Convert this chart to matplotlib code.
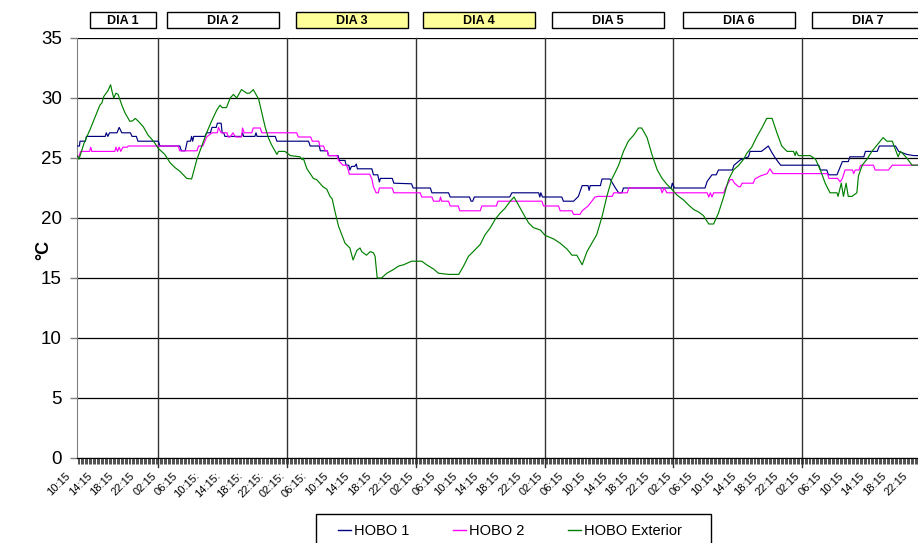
import matplotlib
matplotlib.use('Agg')
import matplotlib.pyplot as plt
from matplotlib.patches import Rectangle
from matplotlib.lines import Line2D
from matplotlib.ticker import MultipleLocator
import matplotlib.transforms as mtransforms

plt.rcParams['font.family'] = ['Liberation Sans', 'DejaVu Sans']

# ---------------- data (hours since 10:15 of day 1, temperature in degC) ----------------
hobo1 = [(0.84, 26.0), (1.3, 26.0), (1.4, 26.4), (2.4, 26.4), (2.6, 26.8), (6.1, 26.8), (6.3, 27.1),
         (6.6, 26.8), (6.9, 27.1), (8.3, 27.1), (8.7, 27.55), (9.2, 27.1), (10.8, 27.1), (11.1, 26.8),
         (11.9, 26.8), (12.2, 26.4), (16.0, 26.4), (16.3, 26.0), (20.0, 26.0), (20.3, 25.6), (21.0, 25.6),
         (21.4, 26.4), (22.0, 26.4), (22.2, 26.8), (22.4, 26.4), (22.6, 26.8), (24.7, 26.8), (25.0, 27.1),
         (25.7, 27.1), (26.0, 27.55), (26.8, 27.55), (27.0, 27.9), (27.7, 27.9), (27.9, 27.1), (28.2, 27.1),
         (28.4, 26.8), (31.5, 26.8), (31.7, 27.1), (31.9, 26.8), (34.0, 26.8), (34.2, 27.1), (34.4, 26.8),
         (37.8, 26.8), (38.1, 26.4), (44.0, 26.4), (44.3, 26.0), (46.0, 26.0), (46.2, 25.6), (47.5, 25.6),
         (47.7, 25.2), (49.5, 25.2), (49.7, 24.8), (50.8, 24.8), (51.0, 24.4), (51.5, 24.4), (51.7, 24.0),
         (52.0, 24.3), (52.6, 24.3), (52.9, 24.5), (53.1, 24.1), (55.8, 24.1), (56.1, 23.6), (56.9, 23.6),
         (57.2, 23.0), (57.4, 23.3), (59.6, 23.3), (59.9, 22.9), (63.2, 22.85), (63.5, 22.5), (66.7, 22.5),
         (67.0, 22.1), (70.1, 22.1), (70.4, 21.75), (74.0, 21.75), (74.3, 21.4), (74.6, 21.4), (74.9, 21.75),
         (81.5, 21.75), (81.9, 22.1), (86.9, 22.1), (87.1, 21.75), (87.3, 22.1), (87.6, 21.75), (91.2, 21.75),
         (91.5, 21.4), (93.4, 21.4), (94.3, 21.8), (95.0, 22.7), (96.1, 22.7), (96.3, 22.3), (96.5, 22.7),
         (98.4, 22.7), (98.7, 23.25), (100.2, 23.25), (101.2, 22.5), (101.8, 22.1), (102.4, 22.1), (102.7, 22.5),
         (111.6, 22.5), (111.8, 22.9), (112.2, 22.5), (117.9, 22.5), (118.3, 23.05), (119.2, 23.6), (120.0, 23.6),
         (120.4, 24.0), (123.0, 24.0), (123.3, 24.4), (124.5, 24.85), (126.0, 25.1), (126.3, 25.55),
         (128.4, 25.55), (129.0, 25.75), (129.7, 26.0), (130.3, 25.5), (131.0, 25.0), (132.0, 24.4),
         (139.1, 24.4), (139.4, 24.0), (140.6, 24.0), (140.9, 23.6), (142.5, 23.6), (143.5, 24.7),
         (144.6, 24.7), (144.9, 25.1), (147.5, 25.1), (147.8, 25.55), (150.0, 25.55), (150.4, 26.0),
         (153.4, 26.0), (154.0, 25.55), (155.5, 25.3), (156.8, 25.2), (157.6, 25.2)]

hobo2 = [(0.84, 25.2), (1.2, 25.1), (1.5, 25.55), (3.2, 25.55), (3.4, 25.9), (3.6, 25.55), (7.9, 25.55),
         (8.1, 25.9), (8.4, 25.55), (8.7, 25.9), (9.0, 25.55), (9.4, 25.9), (10.2, 25.9), (10.4, 26.0),
         (19.7, 26.0), (20.0, 25.6), (23.2, 25.6), (23.5, 26.0), (24.3, 26.0), (25.0, 26.75), (26.0, 27.1),
         (27.0, 27.1), (27.2, 27.55), (27.7, 27.1), (28.8, 27.1), (29.0, 26.75), (29.4, 26.75), (29.9, 27.1),
         (30.4, 26.75), (31.5, 26.75), (31.7, 27.5), (32.0, 27.1), (33.4, 27.1), (33.7, 27.5), (35.0, 27.5),
         (35.3, 27.1), (41.8, 27.1), (42.1, 26.75), (44.4, 26.75), (44.7, 26.4), (45.9, 26.4), (46.1, 26.0),
         (46.8, 26.0), (47.1, 25.6), (47.5, 25.6), (47.7, 25.2), (49.3, 25.2), (49.6, 24.8), (50.4, 24.4),
         (51.1, 24.4), (51.4, 24.0), (51.6, 23.65), (55.4, 23.65), (55.8, 23.25), (56.1, 22.6), (56.6, 22.1),
         (57.0, 22.1), (57.2, 22.5), (59.6, 22.5), (59.9, 22.1), (64.8, 22.1), (65.1, 21.75), (67.0, 21.75),
         (67.3, 21.4), (68.4, 21.4), (68.6, 21.75), (68.8, 21.4), (70.1, 21.4), (70.4, 21.0), (71.9, 21.0),
         (72.2, 20.6), (76.0, 20.6), (76.3, 21.0), (79.0, 21.0), (79.3, 21.4), (87.5, 21.4), (87.8, 21.0),
         (90.6, 21.0), (90.9, 20.6), (93.1, 20.6), (93.4, 20.3), (94.6, 20.3), (95.0, 20.6), (96.1, 21.0),
         (96.8, 21.4), (97.4, 21.75), (98.0, 21.8), (100.6, 21.8), (100.9, 22.1), (103.4, 22.1), (103.7, 22.5),
         (109.6, 22.5), (109.9, 22.1), (110.3, 22.5), (110.8, 22.1), (118.3, 22.1), (118.6, 21.75),
         (118.9, 22.1), (119.2, 21.75), (119.5, 22.1), (121.4, 22.1), (121.7, 22.5), (122.6, 23.2),
         (123.0, 23.2), (123.4, 22.9), (124.2, 22.6), (124.5, 22.6), (124.8, 22.9), (126.9, 22.9),
         (127.2, 23.25), (128.2, 23.5), (129.5, 23.7), (130.0, 24.1), (130.6, 23.7), (140.7, 23.7),
         (141.0, 23.3), (142.6, 23.3), (143.1, 23.0), (143.5, 23.3), (144.0, 24.0), (145.4, 24.0),
         (145.6, 23.7), (145.9, 24.0), (146.6, 24.0), (146.9, 24.4), (149.3, 24.4), (149.6, 24.0),
         (152.1, 24.0), (152.8, 24.4), (157.6, 24.4)]

hobo_ext = [(0.84, 25.2), (1.2, 24.9), (1.5, 25.3), (2.2, 26.3), (3.3, 27.4), (4.5, 28.75), (5.1, 29.4),
            (5.5, 29.6), (5.8, 30.1), (6.1, 30.3), (6.6, 30.6), (7.1, 31.1), (7.4, 30.5), (7.7, 30.0),
            (8.1, 30.4), (8.5, 30.3), (9.2, 29.4), (9.8, 28.75), (10.7, 28.05), (11.2, 28.1), (11.7, 28.3),
            (12.3, 28.05), (13.2, 27.6), (14.1, 26.9), (15.1, 26.4), (16.0, 25.8), (17.2, 25.3), (18.2, 24.6),
            (19.1, 24.2), (20.0, 23.9), (21.3, 23.3), (22.2, 23.25), (23.2, 24.9), (24.1, 26.0), (25.0, 27.1),
            (25.9, 28.05), (26.9, 29.0), (27.5, 29.4), (27.9, 29.2), (28.7, 29.2), (29.4, 30.0), (30.0, 30.3),
            (30.6, 30.0), (31.5, 30.7), (32.5, 30.4), (33.0, 30.4), (33.7, 30.7), (34.7, 29.9), (35.3, 28.75),
            (35.9, 27.6), (36.5, 26.7), (37.1, 26.1), (38.1, 25.3), (38.4, 25.55), (39.6, 25.55), (40.6, 25.2),
            (42.4, 25.1), (42.8, 24.86), (43.0, 25.0), (43.7, 24.1), (44.9, 23.3), (45.5, 23.2), (46.7, 22.6),
            (47.4, 22.4), (48.0, 21.8), (48.4, 21.6), (49.0, 20.4), (49.6, 19.3), (50.2, 18.6), (50.8, 17.9),
            (51.7, 17.5), (52.3, 16.5), (53.0, 17.3), (53.6, 17.5), (53.9, 17.2), (54.8, 16.9), (55.5, 17.2),
            (56.1, 17.1), (56.4, 16.8), (56.8, 15.0), (57.6, 15.0), (58.6, 15.4), (59.8, 15.7), (60.8, 16.0),
            (61.7, 16.1), (63.2, 16.4), (65.1, 16.4), (66.0, 16.1), (67.3, 15.75), (68.2, 15.4), (70.1, 15.3),
            (72.0, 15.3), (72.9, 16.0), (73.8, 16.8), (74.7, 17.2), (76.0, 17.8), (76.9, 18.6), (77.9, 19.2),
            (78.8, 19.9), (79.7, 20.4), (80.6, 20.8), (81.6, 21.4), (82.3, 21.75), (83.1, 21.1), (84.1, 20.3),
            (85.0, 19.6), (85.9, 19.2), (87.2, 19.0), (88.1, 18.55), (89.7, 18.25), (90.9, 17.9), (92.2, 17.4),
            (93.1, 16.9), (94.0, 16.9), (95.0, 16.1), (95.9, 17.2), (96.8, 17.9), (97.7, 18.6), (98.7, 20.1),
            (99.6, 21.8), (100.5, 23.2), (101.8, 24.4), (102.7, 25.55), (103.6, 26.4), (104.6, 26.9),
            (105.5, 27.5), (106.1, 27.5), (107.1, 26.7), (108.0, 25.3), (109.0, 24.0), (109.9, 23.3),
            (110.8, 22.8), (111.7, 22.4), (112.7, 21.9), (113.9, 21.5), (114.8, 21.1), (115.8, 20.7),
            (116.7, 20.5), (117.6, 20.2), (118.6, 19.5), (119.5, 19.5), (120.4, 20.4), (121.4, 21.8),
            (122.3, 23.2), (123.2, 24.0), (124.2, 24.4), (125.1, 24.9), (125.7, 25.4), (126.6, 25.9),
            (127.6, 26.8), (128.5, 27.5), (129.4, 28.3), (130.4, 28.3), (131.3, 27.1), (132.2, 26.0),
            (133.2, 25.55), (134.4, 25.55), (134.7, 25.2), (134.9, 25.55), (135.3, 25.2), (137.5, 25.2),
            (138.5, 24.9), (139.4, 24.0), (140.3, 22.9), (141.2, 22.1), (142.5, 22.1), (142.7, 21.8),
            (143.3, 22.9), (143.7, 21.8), (144.2, 22.9), (144.6, 21.8), (145.3, 21.8), (146.2, 22.1),
            (146.5, 23.5), (147.2, 24.4), (148.1, 24.9), (149.0, 25.55), (150.0, 26.1), (151.1, 26.7),
            (151.8, 26.4), (152.8, 26.4), (153.4, 25.7), (153.9, 25.1), (154.3, 25.55), (154.7, 25.4),
            (155.5, 25.0), (156.5, 24.4), (157.6, 24.4)]

series_names = ['HOBO 1', 'HOBO 2', 'HOBO Exterior']
series_colors = ['#000080', '#FF00FF', '#008000']

x_labels = ['10:15', '14:15', '18:15', '22:15',
            '02:15', '06:15', '10:15:', '14:15:', '18:15:', '22:15:',
            '02:15:', '06:15:', '10:15', '14:15', '18:15', '22:15',
            '02:15', '06:15', '10:15', '14:15', '18:15', '22:15',
            '02:15', '06:15', '10:15', '14:15', '18:15', '22:15',
            '02:15', '06:15', '10:15', '14:15', '18:15', '22:15',
            '02:15', '06:15', '10:15', '14:15', '18:15', '22:15']
day_dividers = [16, 40, 64, 88, 112, 136]
day_names = ['DIA 1', 'DIA 2', 'DIA 3', 'DIA 4', 'DIA 5', 'DIA 6', 'DIA 7']
day_colors = ['white', 'white', '#FFFF99', '#FFFF99', 'white', 'white', 'white']

# ---------------- figure ----------------
W, H = 918, 543
fig = plt.figure(figsize=(W / 100, H / 100), dpi=100)
ax = fig.add_axes([77 / W, 1 - 458 / H, (918 - 77) / W, (458 - 38) / H])

for data, name, col in zip([hobo1, hobo2, hobo_ext], series_names, series_colors):
    t = [p[0] for p in data]
    v = [p[1] for p in data]
    ax.plot(t, v, color=col, lw=0.85, label=name, zorder=3)

ax.set_xlim(0.84, 157.6)
ax.set_ylim(0, 35)
ax.set_yticks(range(0, 36, 5))
ax.tick_params(axis='y', labelsize=13.5, length=5, width=1, color='#808080', pad=6)
ax.yaxis.grid(True, color='black', lw=0.9, zorder=1)
ax.set_axisbelow(True)

for s in ['top', 'right']:
    ax.spines[s].set_visible(False)
ax.spines['left'].set_color('#808080')
ax.spines['bottom'].set_color('black')

ax.set_xticks([])
ax.xaxis.set_minor_locator(MultipleLocator(0.25))
ax.tick_params(axis='x', which='minor', length=4, width=0.6, color='#333333', direction='out')

for d in day_dividers:
    ax.axvline(d, ymin=-0.022, ymax=1, color='#333333', lw=1, clip_on=False, zorder=2)

trans = mtransforms.blended_transform_factory(ax.transData, ax.transAxes)
for i, lab in enumerate(x_labels):
    ax.text(4 * i, -0.03, lab, rotation=45, ha='right', va='top', fontsize=8,
            transform=trans, clip_on=False)

ax.set_ylabel('°C', fontsize=13, fontweight='bold')
ax.yaxis.set_label_coords(-0.029, 0.495)

# day header boxes (figure pixel layout)
box_x0 = [90, 167, 296, 423, 552, 683, 812]
box_x1 = [156, 279, 408, 535, 664, 795, 924]
for name, c, x0, x1 in zip(day_names, day_colors, box_x0, box_x1):
    r = Rectangle((x0 / W, 1 - 28 / H), (x1 - x0) / W, 16 / H, transform=fig.transFigure,
                  facecolor=c, edgecolor='black', lw=1)
    fig.add_artist(r)
    fig.text((x0 + x1) / 2 / W, 1 - 20.5 / H, name, ha='center', va='center',
             fontsize=9, fontweight='bold')

# legend frame + entries
fig.add_artist(Rectangle((316 / W, -0.05), (711 - 316) / W, 1 - 514 / H + 0.05,
                         transform=fig.transFigure, facecolor='white', edgecolor='black', lw=1))
handles = [Line2D([], [], color=c, lw=1) for c in series_colors]
fig.legend(handles, series_names, loc='center left', bbox_to_anchor=(338 / W, 1 - 531 / H),
           ncol=3, frameon=False, fontsize=10.5, handlelength=0.9, handletextpad=0.2,
           columnspacing=3.0, borderpad=0, borderaxespad=0)

fig.savefig('out.png', dpi=100)
